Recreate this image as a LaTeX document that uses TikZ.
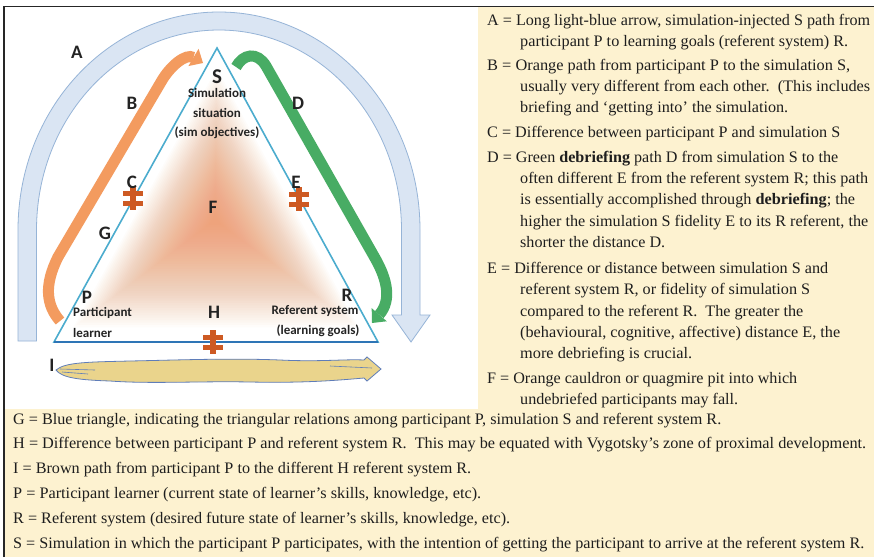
\documentclass[tikz,border=0pt]{standalone}
\usepackage{fontspec}
\setmainfont{Liberation Serif}
\newfontfamily\carl{Carlito}
\usetikzlibrary{arrows.meta}
\definecolor{cream}{RGB}{253,242,208}
\definecolor{textc}{RGB}{30,30,30}
\definecolor{triblue}{RGB}{75,172,206}
\definecolor{basblue}{RGB}{46,117,182}
\definecolor{archf}{RGB}{218,229,243}
\definecolor{archd}{RGB}{150,180,215}
\definecolor{orng}{RGB}{243,155,95}
\definecolor{grn}{RGB}{72,172,100}
\definecolor{glow}{RGB}{238,130,70}
\definecolor{neqc}{RGB}{205,90,35}
\definecolor{tan}{RGB}{234,212,140}
\definecolor{tanedge}{RGB}{95,125,185}
\definecolor{labc}{RGB}{35,35,35}
\newcommand{\fitw}[2]{\resizebox{#1pt}{\height}{#2}}
\newcommand{\neqmark}[2]{%
  \fill[neqc] (#1-10,#2-7.5) rectangle (#1+10,#2-2.5);
  \fill[neqc] (#1-10,#2+2.5) rectangle (#1+10,#2+7.5);
  \fill[neqc] (#1-3,#2-12) rectangle (#1+3,#2+12);}
\begin{document}
\begin{tikzpicture}[x=1pt,y=-1pt,
  txt/.style={anchor=base west, inner sep=0pt, font=\fontsize{16}{16}\selectfont, text=textc},
  lab/.style={inner sep=0pt, font=\carl\bfseries\fontsize{19}{19}\selectfont, text=labc},
  small/.style={inner sep=0pt, font=\carl\bfseries\fontsize{13}{19.5}\selectfont, text=labc},
  band/.style={line width=11pt, line cap=butt},
]
\useasboundingbox (0,0) rectangle (874,557);
% backgrounds
\fill[cream] (4,6.5) rectangle (874,557);
\fill[white] (4.8,7.3) rectangle (478,409);
\draw[line width=1.5pt, black!85] (4,557) -- (4,6.5) -- (874,6.5);

% orange glow in triangle
\begin{scope}
\clip (217,48) -- (54,342) -- (378,342) -- cycle;
\foreach \s in {0.04,0.06,...,0.9} {
  \fill[glow, fill opacity=0.022, shift={(215,220)}, scale=\s] (2,-172) -- (-161,122) -- (163,122) -- cycle;
}
\end{scope}

% A arch arrow
\draw[fill=archf, draw=archd, line width=0.8pt] (18,341) -- (18,230)
  arc[start angle=180, end angle=360, x radius=201, y radius=218]
  -- (420,315) -- (430,315) -- (411,342) -- (392,315) -- (401.5,315) -- (401.5,230)
  arc[start angle=0, end angle=-180, x radius=182.5, y radius=200]
  -- (36.5,341) -- cycle;

% triangle G
\draw[triblue, line width=1.6pt, line join=miter] (217,48) -- (54,342) -- (378,342) -- cycle;
\draw[basblue, line width=2.2pt] (54,342) -- (378,342);

% B orange path
\draw[orng, band, -{Triangle[width=20pt,length=11pt,line width=0pt]}]
  (60,321) .. controls (46,305) and (44,285) .. (58,257) -- (161,82)
  .. controls (170,66) and (186,53) .. (203,63);

% D green path
\draw[grn, band, -{Triangle[width=20pt,length=11pt,line width=0pt]}]
  (236,67) .. controls (243,54) and (257,51) .. (266,66) -- (375,258)
  .. controls (387,279) and (392,300) .. (372,323);

% I brown path
\draw[fill=tan, draw=tanedge, line width=0.8pt]
  (56,370) .. controls (65,362) and (90,362) .. (130,361)
  .. controls (180,360) and (230,358) .. (280,360)
  .. controls (320,362) and (345,359) .. (364,360) -- (367,357) -- (381,369) -- (367,381) -- (364,378)
  .. controls (330,381) and (300,383) .. (250,382)
  .. controls (200,381) and (150,384) .. (110,381)
  .. controls (80,380) and (62,378) .. (56,370) -- cycle;
\draw[tanedge, line width=0.6pt] (60,369) -- (95,370) (62,372) -- (88,374) (330,366) -- (372,368);

% not-equal marks
\neqmark{133}{198}
\neqmark{299}{199}
\neqmark{213}{342}

% diagram labels
\node[lab] (lA) at (77,52) {A};
\node[lab] (lB) at (132,103) {B};
\node[lab, font=\carl\bfseries\fontsize{21}{21}\selectfont] (lS) at (217,77) {S};
\node[small, align=center] (lSim) at (217,114) {Simulation\\situation\\(sim objectives)};
\node[lab] (lD) at (298,103) {D};
\node[lab] (lC) at (132,182) {C};
\node[lab] (lE) at (296,182) {E};
\node[lab] (lF) at (213,207) {F};
\node[lab] (lG) at (105,233) {G};
\node[lab] (lP) at (87,297) {P};
\node[small, anchor=west] (lP1) at (73,313) {Participant};
\node[small, anchor=west] (lP2) at (73,333) {learner};
\node[lab] (lH) at (214,312) {H};
\node[lab] (lR) at (347,295) {R};
\node[small] (lR1) at (315,311) {Referent system};
\node[small] (lR2) at (318,331) {(learning goals)};
\node[lab] (lI) at (52,365) {I};

% right column text
\node[txt] (tA1) at (487,25) {\fitw{383}{A = Long light-blue arrow, simulation-injected S path from}};
\node[txt] (tA2) at (520,46) {\fitw{328}{participant P to learning goals (referent system) R.}};
\node[txt] (tB1) at (487,70) {\fitw{363}{B = Orange path from participant P to the simulation S,}};
\node[txt] (tB2) at (520,91) {\fitw{350}{usually very different from each other.\ \ (This includes}};
\node[txt] (tB3) at (520,112) {\fitw{268}{briefing and ‘getting into’ the simulation.}};
\node[txt] (tC) at (487,137) {\fitw{353}{C = Difference between participant P and simulation S}};
\node[txt] (tD1) at (487,162) {\fitw{351}{D = Green \textbf{debriefing} path D from simulation S to the}};
\node[txt] (tD2) at (520,183) {\fitw{348}{often different E from the referent system R; this path}};
\node[txt] (tD3) at (520,204) {\fitw{335}{is essentially accomplished through \textbf{debriefing}; the}};
\node[txt] (tD4) at (520,226) {\fitw{348}{higher the simulation S fidelity E to its R referent, the}};
\node[txt] (tD5) at (520,247) {\fitw{145}{shorter the distance D.}};
\node[txt] (tE1) at (487,273) {\fitw{341}{E = Difference or distance between simulation S and}};
\node[txt] (tE2) at (520,294) {\fitw{290}{referent system R, or fidelity of simulation S}};
\node[txt] (tE3) at (520,316) {\fitw{283}{compared to the referent R.\ \ The greater the}};
\node[txt] (tE4) at (520,337) {\fitw{320}{(behavioural, cognitive, affective) distance E, the}};
\node[txt] (tE5) at (520,358) {\fitw{172}{more debriefing is crucial.}};
\node[txt] (tF1) at (487,383) {\fitw{310}{F = Orange cauldron or quagmire pit into which}};
\node[txt] (tF2) at (520,404) {\fitw{218}{undebriefed participants may fall.}};

% bottom text
\node[txt] (tG) at (13,424) {\fitw{708}{G = Blue triangle, indicating the triangular relations among participant P, simulation S and referent system R.}};
\node[txt] (tH) at (13,448) {\fitw{853}{H = Difference between participant P and referent system R.\ \ This may be equated with Vygotsky’s zone of proximal development.}};
\node[txt] (tI) at (13,473) {\fitw{458}{I = Brown path from participant P to the different H referent system R.}};
\node[txt] (tP) at (13,498) {\fitw{468}{P = Participant learner (current state of learner’s skills, knowledge, etc).}};
\node[txt] (tR) at (13,523) {\fitw{497}{R = Referent system (desired future state of learner’s skills, knowledge, etc).}};
\node[txt] (tS) at (13,548) {\fitw{851}{S = Simulation in which the participant P participates, with the intention of getting the participant to arrive at the referent system R.}};
\end{tikzpicture}
\end{document}
